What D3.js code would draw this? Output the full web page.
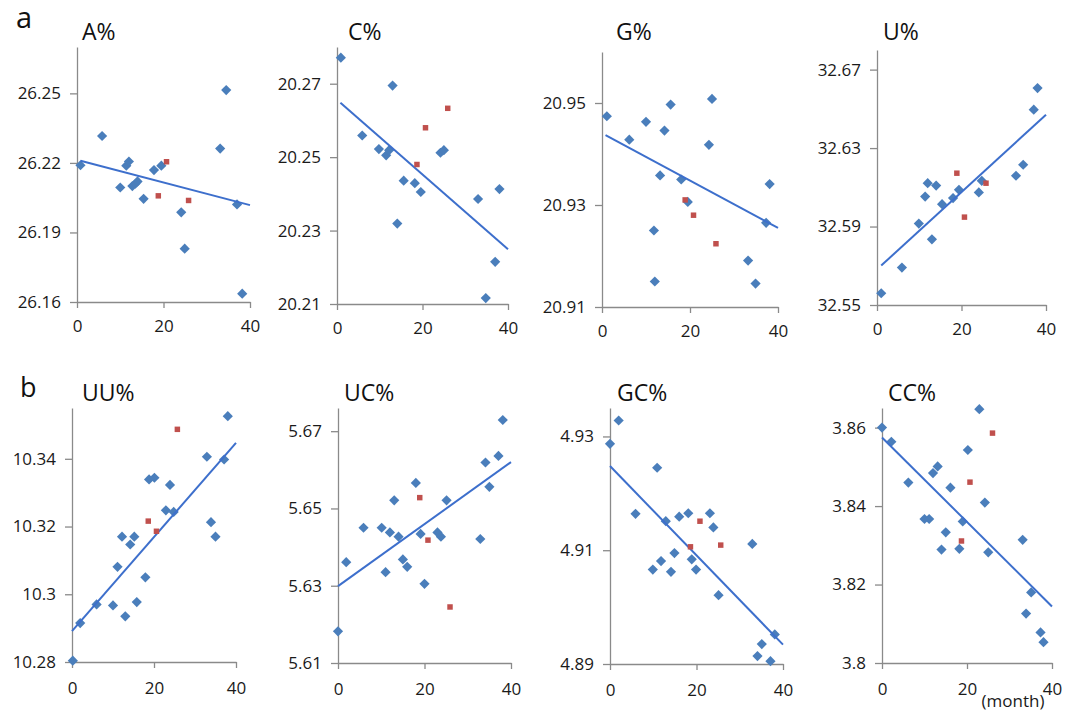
<!DOCTYPE html>
<html>
<head>
<meta charset="utf-8">
<script src="https://cdn.jsdelivr.net/npm/d3@7"></script>
<style>
  body { margin: 0; background: #fff; }
  svg { display: block; font-family: "Open Sans", sans-serif; }
</style>
</head>
<body>
<svg id="chart" width="1073" height="716"></svg>
<script>
// values: [month, value]
var blueA = [[0.8,26.219],[5.8,26.2316],[10,26.2094],[11.4,26.2188],[12,26.2206],[12.8,26.21],[13.5,26.211],[14,26.212],[15.4,26.2045],[17.8,26.2169],[19.5,26.2188],[24.1,26.1987],[24.9,26.183],[33.1,26.2262],[34.5,26.2514],[37,26.2021],[38.2,26.1636]];
var redA = [[18.8,26.2058],[20.7,26.2205],[25.8,26.2038]];
var trendA = [[0.8,26.2209],[40,26.2018]];

var blueC = [[0.9,20.2771],[5.9,20.2559],[9.8,20.2522],[11.5,20.2505],[12.2,20.2519],[13,20.2695],[14.1,20.2319],[15.6,20.2436],[18.2,20.2429],[19.6,20.2405],[24.2,20.2512],[25,20.2519],[33,20.2386],[34.8,20.2116],[37,20.2215],[38,20.2413]];
var redC = [[18.7,20.248],[20.7,20.258],[25.9,20.2633]];
var trendC = [[0.8,20.2648],[40,20.2249]];

var blueG = [[1.1,20.9474],[6.2,20.9428],[10,20.9463],[11.8,20.925],[12,20.915],[13.2,20.9358],[14.2,20.9446],[15.6,20.9497],[18,20.935],[19.5,20.9306],[24.3,20.9418],[25,20.9508],[33.2,20.9191],[34.9,20.9146],[37.3,20.9265],[38.1,20.9341]];
var redG = [[18.9,20.931],[20.8,20.928],[25.9,20.9224]];
var trendG = [[0.8,20.9437],[40,20.9255]];

var blueU = [[1,32.556],[5.9,32.5691],[9.9,32.5915],[11.4,32.6053],[12,32.6121],[13,32.5835],[14,32.6109],[15.4,32.6014],[18,32.6045],[19.4,32.6087],[24.1,32.6074],[24.8,32.6133],[32.9,32.6159],[34.6,32.6215],[37.1,32.6496],[38,32.6606]];
var redU = [[18.9,32.6172],[20.7,32.5948],[25.8,32.6121]];
var trendU = [[1,32.5701],[40,32.647]];

var blueUU = [[0.2,10.2804],[2,10.2915],[6,10.297],[10,10.2967],[11.1,10.3081],[12.2,10.317],[13,10.2935],[14.2,10.3147],[15.2,10.317],[15.8,10.2977],[17.9,10.305],[18.8,10.3339],[20.1,10.3344],[22.9,10.3248],[23.9,10.3323],[24.8,10.3243],[32.9,10.3406],[33.9,10.3213],[35,10.317],[37.1,10.3398],[38,10.3526]];
var redUU = [[18.6,10.3216],[20.6,10.3186],[25.7,10.3487]];
var trendUU = [[0,10.2891],[40,10.3447]];

var blueUC = [[0,5.6182],[1.9,5.6361],[5.9,5.645],[10.1,5.645],[11,5.6335],[12,5.6438],[13,5.6521],[14,5.6427],[15,5.6368],[16,5.6349],[18,5.6566],[19.1,5.6434],[20,5.6305],[23,5.6438],[23.8,5.6427],[25.1,5.6521],[32.9,5.6421],[34.1,5.6619],[35,5.6556],[37.1,5.6636],[38.1,5.6729]];
var redUC = [[18.9,5.6528],[20.8,5.6418],[25.9,5.6245]];
var trendUC = [[0,5.6299],[40,5.662]];

var blueGC = [[0,4.9287],[2,4.9328],[5.9,4.9164],[9.9,4.9066],[10.9,4.9245],[11.8,4.9081],[12.9,4.9151],[14.1,4.9062],[14.9,4.9095],[16,4.9159],[18.1,4.9165],[18.9,4.9084],[19.9,4.9066],[23.1,4.9165],[23.9,4.914],[25.1,4.9021],[32.9,4.9111],[34.1,4.8914],[35.1,4.8935],[37.1,4.8905],[38.1,4.8952]];
var redGC = [[18.6,4.9106],[20.8,4.9151],[25.6,4.9109]];
var trendGC = [[0,4.9248],[40,4.8934]];

var blueCC = [[0,3.86],[2.2,3.8564],[6.2,3.846],[10,3.8367],[11.1,3.8367],[12,3.8484],[13.1,3.8501],[14,3.8289],[15,3.8333],[16.1,3.8447],[18.2,3.8291],[19,3.8361],[20.2,3.8543],[22.9,3.8647],[24.2,3.8409],[25,3.8282],[33.1,3.8314],[33.9,3.8126],[35.1,3.818],[37.3,3.8078],[38,3.8053]];
var redCC = [[18.7,3.8311],[20.7,3.8461],[26,3.8586]];
var trendCC = [[0,3.8575],[40,3.8144]];

// axis ranges and tick labels
var monthTicks = [0, 20, 40];
var ticksA = [26.16, 26.19, 26.22, 26.25], domA = [26.16, 26.27];
var ticksC = [20.21, 20.23, 20.25, 20.27], domC = [20.21, 20.28];
var ticksG = [20.91, 20.93, 20.95], domG = [20.91, 20.96];
var ticksU = [32.55, 32.59, 32.63, 32.67], domU = [32.55, 32.68];
var ticksUU = [10.28, 10.3, 10.32, 10.34], domUU = [10.28, 10.355];
var ticksUC = [5.61, 5.63, 5.65, 5.67], domUC = [5.61, 5.676];
var ticksGC = [4.89, 4.91, 4.93], domGC = [4.89, 4.935];
var ticksCC = [3.8, 3.82, 3.84, 3.86], domCC = [3.8, 3.865];

var panels = [
  {title: "A%",  blue: blueA,  red: redA,  trend: trendA,  ticks: ticksA,  dom: domA,  l: 77,  r: 250,  t: 47,  b: 302, tx: 82,  ty: 40, lab: 12},
  {title: "C%",  blue: blueC,  red: redC,  trend: trendC,  ticks: ticksC,  dom: domC,  l: 337, r: 508,  t: 47,  b: 304, tx: 348, ty: 40, lab: 12},
  {title: "G%",  blue: blueG,  red: redG,  trend: trendG,  ticks: ticksG,  dom: domG,  l: 602, r: 778,  t: 52,  b: 307, tx: 616, ty: 40, lab: 12},
  {title: "U%",  blue: blueU,  red: redU,  trend: trendU,  ticks: ticksU,  dom: domU,  l: 877, r: 1046, t: 50,  b: 305, tx: 883, ty: 40, lab: 12},
  {title: "UU%", blue: blueUU, red: redUU, trend: trendUU, ticks: ticksUU, dom: domUU, l: 72,  r: 236,  t: 408, b: 662, tx: 82,  ty: 401, lab: 14},
  {title: "UC%", blue: blueUC, red: redUC, trend: trendUC, ticks: ticksUC, dom: domUC, l: 338, r: 511,  t: 408, b: 663, tx: 344, ty: 401, lab: 14},
  {title: "GC%", blue: blueGC, red: redGC, trend: trendGC, ticks: ticksGC, dom: domGC, l: 610, r: 783,  t: 408, b: 664, tx: 617, ty: 401, lab: 14},
  {title: "CC%", blue: blueCC, red: redCC, trend: trendCC, ticks: ticksCC, dom: domCC, l: 882, r: 1052, t: 408, b: 663, tx: 888, ty: 401, lab: 14}
];

var svg = d3.select("#chart");
var axisColor = "#8a8a8a";

panels.forEach(function(p) {
  var x = d3.scaleLinear().domain([0, 40]).range([p.l, p.r]);
  var y = d3.scaleLinear().domain(p.dom).range([p.b, p.t]);
  var g = svg.append("g");

  // y axis
  g.append("g")
    .attr("transform", "translate(" + p.l + ",0)")
    .call(d3.axisLeft(y).tickValues(p.ticks).tickSize(7).tickSizeOuter(0).tickPadding(9).tickFormat(String))
    .call(function(a) {
      a.select(".domain").attr("stroke", axisColor).attr("stroke-width", 1.3);
      a.selectAll(".tick line").attr("stroke", axisColor).attr("stroke-width", 1.3);
      a.selectAll("text").attr("font-family", "Open Sans").attr("font-size", 17).attr("fill", "#1a1a1a");
    });

  // x axis
  g.append("g")
    .attr("transform", "translate(0," + p.b + ")")
    .call(d3.axisBottom(x).tickValues(monthTicks).tickSize(6).tickSizeOuter(0).tickPadding(p.lab))
    .call(function(a) {
      a.select(".domain").attr("stroke", axisColor).attr("stroke-width", 1.3);
      a.selectAll(".tick line").attr("stroke", axisColor).attr("stroke-width", 1.3);
      a.selectAll("text").attr("font-family", "Open Sans").attr("font-size", 17).attr("fill", "#1a1a1a");
    });

  // blue diamonds
  g.selectAll(".dia")
    .data(p.blue)
    .enter().append("path")
    .attr("d", d3.symbol(d3.symbolSquare, 52)())
    .attr("transform", function(d) { return "translate(" + x(d[0]) + "," + y(d[1]) + ") rotate(45)"; })
    .attr("fill", "#4a7ebb");

  // trend line
  g.append("path")
    .datum(p.trend)
    .attr("d", d3.line().x(function(d) { return x(d[0]); }).y(function(d) { return y(d[1]); }))
    .attr("stroke", "#3d6fcc")
    .attr("stroke-width", 2)
    .attr("fill", "none");

  // red squares
  g.selectAll(".sq")
    .data(p.red)
    .enter().append("path")
    .attr("d", d3.symbol(d3.symbolSquare, 30)())
    .attr("transform", function(d) { return "translate(" + x(d[0]) + "," + y(d[1]) + ")"; })
    .attr("fill", "#c0504d");

  // title
  svg.append("text")
    .attr("x", p.tx).attr("y", p.ty)
    .attr("font-size", 23)
    .attr("fill", "#111")
    .text(p.title);
});

// row labels
svg.append("text").attr("x", 16).attr("y", 28).attr("font-size", 29).attr("fill", "#111").text("a");
svg.append("text").attr("x", 20).attr("y", 397).attr("font-size", 27).attr("fill", "#111").text("b");

svg.append("text")
  .attr("x", 1013).attr("y", 707)
  .attr("text-anchor", "middle")
  .attr("font-size", 17)
  .attr("fill", "#1a1a1a")
  .text("(month)");
</script>
</body>
</html>
